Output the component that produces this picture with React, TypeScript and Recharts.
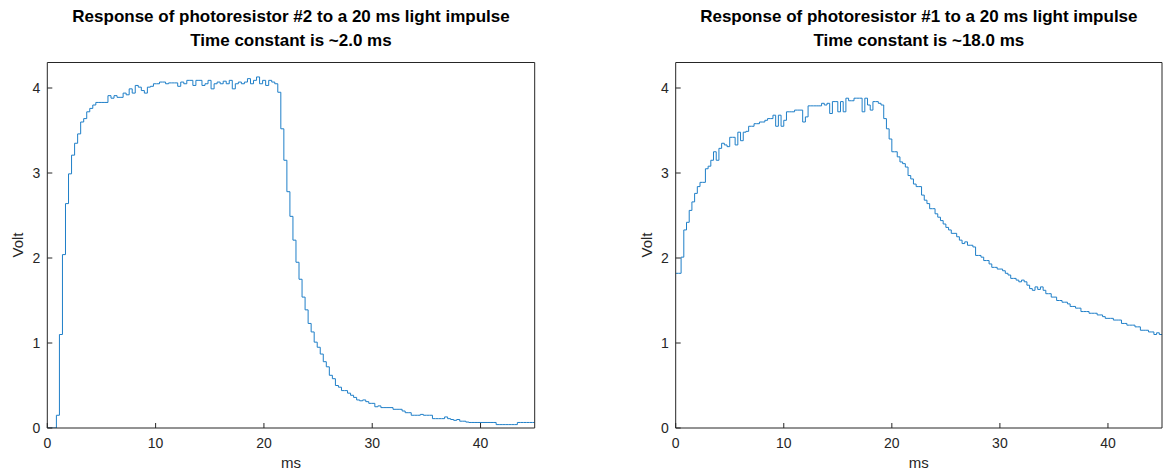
import { LineChart, Line, XAxis, YAxis } from "recharts";

// sample spacing of each trace, in ms
const DT_LEFT = 0.28;
const DT_RIGHT = 0.25;
const X_END = 45;

// photoresistor #2, volts, one value per DT_LEFT
const LEFT_VOLT = [
  0, 0, 0, 0.15, 1.1, 2.04, 2.64, 2.99, 3.21, 3.35,
  3.46, 3.6, 3.64, 3.72, 3.76, 3.8, 3.83, 3.83, 3.83, 3.83,
  3.91, 3.88, 3.91, 3.89, 3.89, 3.94, 3.92, 3.99, 3.94, 4.03,
  4.01, 3.97, 3.94, 4.01, 4.02, 4.05, 4.05, 4.07, 4.07, 4.05,
  4.06, 4.06, 4.06, 4.02, 4.07, 4.05, 4.09, 4.09, 4.03, 4.09,
  4.09, 4.03, 4.05, 4.09, 3.99, 4.05, 4.07, 4.05, 4.08, 4.05,
  4.09, 3.99, 4.05, 4.07, 4.05, 4.07, 4.11, 4.05, 4.09, 4.13,
  4.05, 4.09, 4.03, 4.09, 4.07, 4.05, 3.95, 3.52, 3.15, 2.78,
  2.49, 2.21, 1.95, 1.75, 1.54, 1.39, 1.23, 1.13, 1.01, 0.95,
  0.87, 0.78, 0.72, 0.62, 0.58, 0.5, 0.48, 0.44, 0.44, 0.41,
  0.385, 0.36, 0.33, 0.32, 0.33, 0.31, 0.29, 0.29, 0.25, 0.26,
  0.24, 0.24, 0.24, 0.24, 0.22, 0.22, 0.22, 0.2, 0.18, 0.18,
  0.15, 0.15, 0.15, 0.16, 0.15, 0.15, 0.15, 0.11, 0.11, 0.11,
  0.11, 0.13, 0.11, 0.1, 0.09, 0.1, 0.08, 0.08, 0.07, 0.065,
  0.065, 0.065, 0.065, 0.065, 0.065, 0.065, 0.065, 0.065, 0.04, 0.04,
  0.04, 0.04, 0.04, 0.04, 0.04, 0.065, 0.065, 0.065, 0.065, 0.065,
  0.065,
];

// photoresistor #1, volts, one value per DT_RIGHT
const RIGHT_VOLT = [
  1.82, 1.82, 2.01, 2.33, 2.42, 2.56, 2.66, 2.76,
  2.84, 2.89, 2.89, 3.05, 3.08, 3.15, 3.25, 3.15,
  3.29, 3.35, 3.33, 3.31, 3.42, 3.42, 3.33, 3.48,
  3.38, 3.48, 3.49, 3.55, 3.55, 3.58, 3.58, 3.6,
  3.6, 3.62, 3.64, 3.64, 3.68, 3.55, 3.68, 3.55,
  3.62, 3.72, 3.72, 3.72, 3.74, 3.74, 3.74, 3.6,
  3.66, 3.79, 3.79, 3.79, 3.79, 3.79, 3.82, 3.8,
  3.82, 3.7, 3.84, 3.84, 3.72, 3.84, 3.72, 3.88,
  3.85, 3.85, 3.88, 3.88, 3.88, 3.72, 3.88, 3.8,
  3.74, 3.84, 3.84, 3.82, 3.8, 3.64, 3.52, 3.4,
  3.25, 3.25, 3.19, 3.13, 3.11, 3.07, 2.97, 2.93,
  2.87, 2.84, 2.84, 2.74, 2.68, 2.64, 2.58, 2.58,
  2.52, 2.48, 2.44, 2.4, 2.36, 2.33, 2.29, 2.29,
  2.25, 2.21, 2.17, 2.19, 2.15, 2.15, 2.13, 2.03,
  2.03, 2.01, 1.97, 1.97, 1.93, 1.89, 1.89, 1.87,
  1.87, 1.85, 1.82, 1.8, 1.76, 1.76, 1.74, 1.72,
  1.74, 1.72, 1.68, 1.64, 1.62, 1.66, 1.63, 1.66,
  1.62, 1.58, 1.58, 1.54, 1.54, 1.5, 1.5, 1.48,
  1.48, 1.46, 1.43, 1.43, 1.41, 1.41, 1.37, 1.37,
  1.37, 1.35, 1.35, 1.35, 1.33, 1.33, 1.31, 1.29,
  1.29, 1.29, 1.27, 1.27, 1.27, 1.23, 1.23, 1.21,
  1.21, 1.21, 1.19, 1.19, 1.15, 1.15, 1.15, 1.13,
  1.13, 1.1, 1.12, 1.1,
];

const X_TICKS = [0, 10, 20, 30, 40];
const Y_TICKS = [0, 1, 2, 3, 4];
const LEFT_TITLE = [
  "Response of photoresistor #2 to a 20 ms light impulse",
  "Time constant is ~2.0 ms",
];
const RIGHT_TITLE = [
  "Response of photoresistor #1 to a 20 ms light impulse",
  "Time constant is ~18.0 ms",
];

const FONT = "'Liberation Sans', Arial, Helvetica, sans-serif";
const INK = "#262626";
const BLUE = "#1f7fc8";
const H = 472;

function toRows(values: number[], dt: number) {
  const rows = values.map((v, i) => ({ t: i * dt, v }));
  // hold the last sample to the right edge
  rows.push({ t: X_END, v: values[values.length - 1] });
  return rows;
}

interface PanelProps {
  values: number[];
  dt: number;
  x: number;
  width: number;
  marginLeft: number;
  marginRight: number;
  title: string[];
}

function Panel({ values, dt, x, width, marginLeft, marginRight, title }: PanelProps) {
  const data = toRows(values, dt);
  const plotLeft = marginLeft + 30;
  const plotRight = width - marginRight - 1;
  const cx = (plotLeft + plotRight) / 2;
  const voltX = plotLeft - 24;
  return (
    <div style={{ position: "absolute", left: x, top: 0, width, height: H }}>
      <LineChart
        width={width}
        height={H}
        data={data}
        margin={{ top: 61.5, right: marginRight, bottom: 14, left: marginLeft }}
        style={{ fontFamily: FONT }}
      >
        <XAxis
          xAxisId="b"
          type="number"
          dataKey="t"
          domain={[0, X_END]}
          ticks={X_TICKS}
          interval={0}
          allowDataOverflow
          height={30}
          tickSize={-5}
          tickMargin={15}
          stroke={INK}
          tick={{ fill: INK, fontSize: 14 }}
        />
        <XAxis
          xAxisId="t"
          orientation="top"
          type="number"
          dataKey="t"
          domain={[0, X_END]}
          ticks={X_TICKS}
          interval={0}
          allowDataOverflow
          height={1}
          tickSize={-5}
          tick={false}
          stroke={INK}
        />
        <YAxis
          yAxisId="l"
          type="number"
          domain={[0, 4.3]}
          ticks={Y_TICKS}
          interval={0}
          allowDataOverflow
          width={30}
          tickSize={-5}
          tickMargin={12}
          stroke={INK}
          tick={{ fill: INK, fontSize: 14 }}
        />
        <YAxis
          yAxisId="r"
          orientation="right"
          type="number"
          domain={[0, 4.3]}
          ticks={Y_TICKS}
          interval={0}
          allowDataOverflow
          width={1}
          tickSize={-5}
          tick={false}
          stroke={INK}
        />
        <Line
          xAxisId="b"
          yAxisId="l"
          type="stepAfter"
          dataKey="v"
          stroke={BLUE}
          strokeWidth={1}
          dot={false}
          activeDot={false}
          isAnimationActive={false}
        />
      </LineChart>
      <svg
        width={width}
        height={H}
        style={{ position: "absolute", left: 0, top: 0, pointerEvents: "none", fontFamily: FONT }}
      >
        <text x={cx} y={22} textAnchor="middle" fontSize={17} fontWeight="bold" fill="#000">
          {title[0]}
        </text>
        <text x={cx} y={46} textAnchor="middle" fontSize={17} fontWeight="bold" fill="#000">
          {title[1]}
        </text>
        <text x={cx} y={468} textAnchor="middle" fontSize={15} fill={INK}>
          ms
        </text>
        <text
          x={voltX}
          y={245}
          textAnchor="middle"
          fontSize={15}
          fill={INK}
          transform={`rotate(-90 ${voltX} 245)`}
        >
          Volt
        </text>
      </svg>
    </div>
  );
}

export default function App() {
  return (
    <div style={{ position: "relative", width: 1163, height: H, background: "#fff", overflow: "hidden" }}>
      <style>{"body{margin:0}"}</style>
      <Panel
        values={LEFT_VOLT}
        dt={DT_LEFT}
        x={0}
        width={560}
        marginLeft={17.3}
        marginRight={24.3}
        title={LEFT_TITLE}
      />
      <Panel
        values={RIGHT_VOLT}
        dt={DT_RIGHT}
        x={600}
        width={563}
        marginLeft={45.7}
        marginRight={0}
        title={RIGHT_TITLE}
      />
    </div>
  );
}
